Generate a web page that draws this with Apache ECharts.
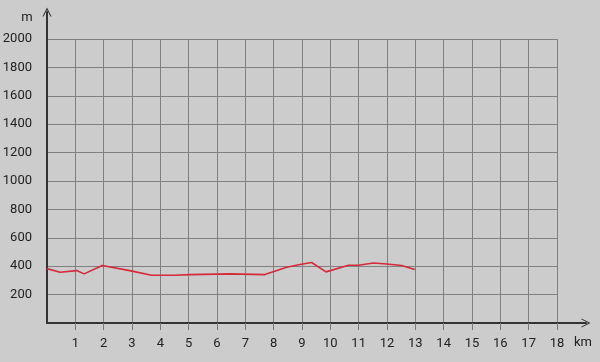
<!DOCTYPE html>
<html><head><meta charset="utf-8">
<script src="https://cdn.jsdelivr.net/npm/echarts@6/dist/echarts.min.js"></script>
<style>html,body{margin:0;padding:0;background:#cccccc;}#c{width:600px;height:362px;}</style>
</head><body><div id="c"></div>
<script>
const distanceKm = [0, 0.46, 1.05, 1.31, 1.95, 2.92, 3.69, 4.46, 5.05, 6.45, 7.69, 8.46, 8.93, 9.34, 9.85, 10.64, 10.99, 11.52, 11.99, 12.52, 12.98];
const elevationM = [383, 357, 369, 346, 405, 369, 336, 336, 341, 346, 341, 393, 412, 426, 360, 407, 407, 423, 416, 405, 376];
const xTicks = [1,2,3,4,5,6,7,8,9,10,11,12,13,14,15,16,17,18];
const yTicks = [200,400,600,800,1000,1200,1400,1600,1800,2000];
const xUnit = 'km', yUnit = 'm';

const chart = echarts.init(document.getElementById('c'), null, {renderer:'canvas'});
const arrow = 'path://M0,10 L5,0 L10,10 L8.8,10 L5,2.4 L1.2,10 Z';
const font = {fontFamily:'Roboto', fontSize:13, color:'#222'};
chart.setOption({
  backgroundColor:'#cccccc',
  animation:false,
  grid:[
    {left:47, right:43, top:39, bottom:39, containLabel:false, outerBoundsMode:'none'},
    {left:47, right:14, top:12, bottom:39, containLabel:false, outerBoundsMode:'none'}
  ],
  xAxis:[
    {gridIndex:0, type:'value', min:0, max:18, interval:1,
     axisLine:{show:false},
     axisTick:{show:true, length:7, customValues:xTicks, lineStyle:{color:'#777', width:1}},
     splitLine:{show:true, lineStyle:{color:'#808080', width:1}},
     axisLabel:{...font, margin:14, customValues:xTicks, formatter:v => String(v)}},
    {gridIndex:1, type:'value', min:0, max:1,
     axisLine:{show:true, lineStyle:{color:'#333', width:2}, symbol:['none', arrow], symbolSize:[10,9]},
     axisTick:{show:false}, splitLine:{show:false}, axisLabel:{show:false}}
  ],
  yAxis:[
    {gridIndex:0, type:'value', min:0, max:2000, interval:200,
     axisLine:{show:false}, axisTick:{show:false},
     splitLine:{show:true, lineStyle:{color:'#808080', width:1}},
     axisLabel:{...font, margin:15, customValues:yTicks, formatter:v => String(v)}},
    {gridIndex:1, type:'value', min:0, max:1,
     axisLine:{show:true, lineStyle:{color:'#333', width:2}, symbol:['none', arrow], symbolSize:[10,9]},
     axisTick:{show:false}, splitLine:{show:false}, axisLabel:{show:false}}
  ],
  graphic:[
    {type:'text', x:27, y:18, style:{text:yUnit, font:'13px Roboto', fill:'#222', align:'center', verticalAlign:'middle'}},
    {type:'text', x:583, y:343, style:{text:xUnit, font:'13px Roboto', fill:'#222', align:'center', verticalAlign:'middle'}}
  ],
  series:[{
    type:'line', xAxisIndex:0, yAxisIndex:0,
    data: distanceKm.map((d,i)=>[d, elevationM[i]]),
    showSymbol:false, symbol:'none',
    lineStyle:{color:'#d42a3a', width:1.6}
  }]
});
</script></body></html>
